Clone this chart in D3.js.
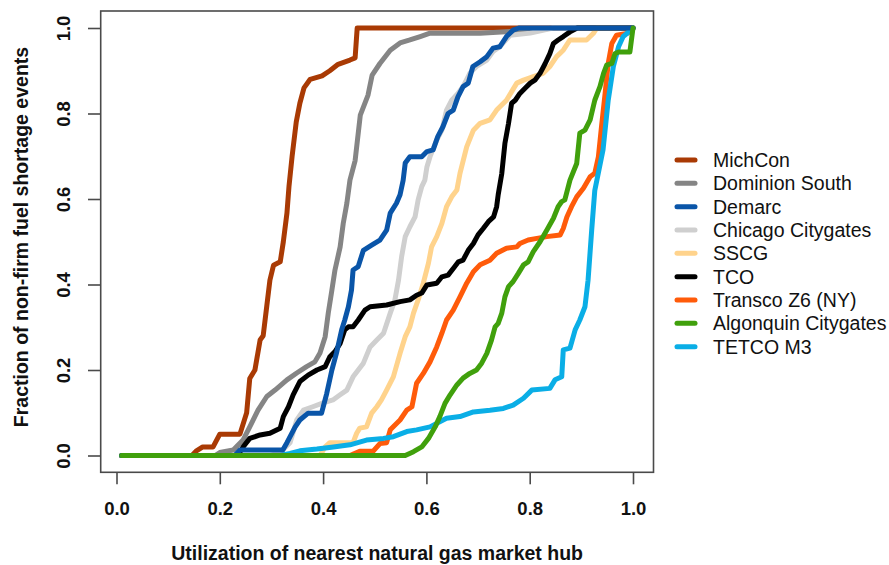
<!DOCTYPE html>
<html>
<head>
<meta charset="utf-8">
<script src="https://cdn.jsdelivr.net/npm/d3@7"></script>
<style>
  html, body { margin: 0; padding: 0; background: #fff; }
  svg { display: block; font-family: "Liberation Sans", Arial, Helvetica, sans-serif; }
</style>
</head>
<body>
<svg id="chart" width="889" height="565"></svg>
<script>
// ---------- data ----------
const seriesNames = ["MichCon", "Dominion South", "Demarc", "Chicago Citygates", "SSCG", "TCO", "Transco Z6 (NY)", "Algonquin Citygates", "TETCO M3"];
const seriesColors = ["#A93A04", "#858585", "#0A55A8", "#CFCFCF", "#FFD38C", "#000000", "#FF5B0A", "#40A00C", "#0AAEE6"];

const michconX = [0.01, 0.146, 0.154, 0.167, 0.187, 0.200, 0.239, 0.252, 0.258, 0.268, 0.278, 0.284, 0.291, 0.297, 0.304, 0.317, 0.323, 0.330, 0.334, 0.340, 0.348, 0.355, 0.363, 0.375, 0.398, 0.413, 0.429, 0.452, 0.462, 0.466, 1.0];
const michconY = [0, 0, 0.01, 0.02, 0.02, 0.05, 0.05, 0.10, 0.18, 0.20, 0.27, 0.28, 0.35, 0.41, 0.445, 0.453, 0.50, 0.567, 0.63, 0.70, 0.78, 0.824, 0.86, 0.88, 0.888, 0.90, 0.915, 0.925, 0.93, 1.0, 1.0];

const dominionX = [0.01, 0.191, 0.200, 0.226, 0.245, 0.258, 0.274, 0.291, 0.307, 0.330, 0.349, 0.368, 0.384, 0.394, 0.404, 0.410, 0.417, 0.423, 0.433, 0.439, 0.446, 0.452, 0.462, 0.472, 0.487, 0.495, 0.510, 0.530, 0.549, 0.568, 0.588, 0.607, 0.704, 0.762, 0.849, 1.0];
const dominionY = [0, 0, 0.007, 0.013, 0.036, 0.067, 0.106, 0.138, 0.153, 0.177, 0.193, 0.208, 0.219, 0.24, 0.278, 0.333, 0.387, 0.434, 0.488, 0.543, 0.59, 0.644, 0.69, 0.796, 0.843, 0.89, 0.917, 0.948, 0.965, 0.972, 0.98, 0.988, 0.988, 0.992, 1.0, 1.0];

const demarcX = [0.01, 0.229, 0.239, 0.322, 0.330, 0.346, 0.355, 0.371, 0.397, 0.407, 0.417, 0.426, 0.436, 0.442, 0.449, 0.455, 0.458, 0.468, 0.478, 0.494, 0.510, 0.523, 0.530, 0.542, 0.549, 0.555, 0.559, 0.568, 0.591, 0.601, 0.613, 0.622, 0.632, 0.642, 0.652, 0.661, 0.671, 0.681, 0.690, 0.704, 0.717, 0.729, 0.742, 0.755, 0.768, 0.779, 1.0];
const demarcY = [0, 0, 0.013, 0.013, 0.03, 0.067, 0.083, 0.099, 0.099, 0.145, 0.2, 0.24, 0.294, 0.317, 0.348, 0.387, 0.434, 0.442, 0.48, 0.492, 0.504, 0.527, 0.567, 0.59, 0.61, 0.644, 0.684, 0.699, 0.699, 0.711, 0.715, 0.746, 0.769, 0.80, 0.808, 0.839, 0.863, 0.871, 0.91, 0.921, 0.933, 0.953, 0.956, 0.98, 0.995, 1.0, 1.0];

const chicagoX = [0.01, 0.297, 0.317, 0.336, 0.349, 0.362, 0.380, 0.400, 0.419, 0.433, 0.446, 0.458, 0.478, 0.491, 0.504, 0.517, 0.530, 0.539, 0.546, 0.552, 0.559, 0.568, 0.578, 0.584, 0.591, 0.597, 0.601, 0.607, 0.620, 0.630, 0.639, 0.649, 0.661, 0.671, 0.684, 0.697, 0.717, 0.729, 0.742, 0.762, 0.801, 0.845, 1.0];
const chicagoY = [0, 0, 0.008, 0.03, 0.083, 0.106, 0.114, 0.123, 0.13, 0.142, 0.153, 0.184, 0.216, 0.254, 0.27, 0.286, 0.333, 0.364, 0.41, 0.465, 0.512, 0.535, 0.558, 0.598, 0.629, 0.644, 0.675, 0.699, 0.738, 0.761, 0.808, 0.831, 0.847, 0.863, 0.894, 0.91, 0.925, 0.945, 0.956, 0.983, 0.988, 1.0, 1.0];

const sscgX = [0.01, 0.394, 0.404, 0.413, 0.458, 0.465, 0.471, 0.484, 0.494, 0.504, 0.513, 0.523, 0.536, 0.549, 0.559, 0.568, 0.575, 0.584, 0.594, 0.604, 0.610, 0.620, 0.630, 0.639, 0.649, 0.659, 0.665, 0.678, 0.691, 0.704, 0.723, 0.736, 0.755, 0.775, 0.788, 0.807, 0.826, 0.839, 0.852, 0.865, 0.878, 0.910, 0.923, 0.930, 1.0];
const sscgY = [0, 0, 0.02, 0.03, 0.03, 0.052, 0.064, 0.067, 0.099, 0.114, 0.13, 0.153, 0.184, 0.239, 0.278, 0.301, 0.333, 0.364, 0.403, 0.45, 0.488, 0.512, 0.543, 0.582, 0.605, 0.621, 0.66, 0.722, 0.761, 0.777, 0.785, 0.808, 0.831, 0.871, 0.878, 0.886, 0.894, 0.91, 0.933, 0.948, 0.972, 0.972, 0.987, 1.0, 1.0];

const tcoX = [0.01, 0.235, 0.245, 0.258, 0.278, 0.297, 0.317, 0.323, 0.333, 0.342, 0.355, 0.371, 0.388, 0.404, 0.413, 0.423, 0.433, 0.442, 0.449, 0.458, 0.468, 0.481, 0.491, 0.523, 0.549, 0.568, 0.581, 0.591, 0.601, 0.620, 0.630, 0.642, 0.655, 0.662, 0.671, 0.681, 0.691, 0.700, 0.710, 0.720, 0.730, 0.736, 0.739, 0.746, 0.752, 0.759, 0.765, 0.772, 0.781, 0.791, 0.801, 0.810, 0.820, 0.830, 0.839, 0.846, 0.855, 0.865, 0.878, 0.892, 1.0];
const tcoY = [0, 0, 0.02, 0.04, 0.048, 0.052, 0.064, 0.091, 0.114, 0.142, 0.173, 0.188, 0.2, 0.208, 0.231, 0.243, 0.262, 0.294, 0.301, 0.301, 0.317, 0.34, 0.348, 0.352, 0.36, 0.364, 0.375, 0.38, 0.399, 0.403, 0.418, 0.422, 0.442, 0.453, 0.457, 0.48, 0.496, 0.516, 0.531, 0.547, 0.558, 0.582, 0.61, 0.66, 0.73, 0.777, 0.824, 0.831, 0.847, 0.859, 0.871, 0.878, 0.894, 0.917, 0.94, 0.964, 0.972, 0.98, 0.991, 1.0, 1.0];

const transcoX = [0.01, 0.452, 0.471, 0.497, 0.510, 0.523, 0.530, 0.549, 0.562, 0.572, 0.581, 0.594, 0.607, 0.620, 0.630, 0.639, 0.652, 0.665, 0.678, 0.691, 0.704, 0.723, 0.736, 0.755, 0.775, 0.781, 0.797, 0.814, 0.833, 0.859, 0.865, 0.872, 0.881, 0.891, 0.904, 0.917, 0.926, 0.933, 0.939, 0.946, 0.952, 0.959, 0.968, 0.988, 1.0];
const transcoY = [0, 0, 0.01, 0.01, 0.028, 0.03, 0.06, 0.083, 0.106, 0.114, 0.169, 0.192, 0.219, 0.254, 0.286, 0.317, 0.34, 0.371, 0.403, 0.43, 0.446, 0.457, 0.473, 0.485, 0.488, 0.496, 0.504, 0.508, 0.512, 0.516, 0.531, 0.558, 0.582, 0.605, 0.625, 0.652, 0.66, 0.699, 0.769, 0.847, 0.917, 0.964, 0.983, 0.987, 1.0];

const algonquinX = [0.01, 0.559, 0.575, 0.591, 0.604, 0.617, 0.626, 0.636, 0.646, 0.659, 0.671, 0.684, 0.697, 0.707, 0.717, 0.726, 0.733, 0.739, 0.746, 0.752, 0.759, 0.768, 0.778, 0.788, 0.797, 0.807, 0.820, 0.833, 0.846, 0.855, 0.862, 0.868, 0.878, 0.891, 0.897, 0.907, 0.917, 0.926, 0.936, 0.943, 0.949, 0.959, 0.965, 0.972, 0.994, 1.0];
const algonquinY = [0, 0, 0.009, 0.02, 0.04, 0.067, 0.091, 0.122, 0.142, 0.165, 0.181, 0.192, 0.2, 0.216, 0.239, 0.27, 0.301, 0.309, 0.333, 0.371, 0.395, 0.407, 0.426, 0.446, 0.453, 0.477, 0.5, 0.527, 0.555, 0.582, 0.594, 0.598, 0.644, 0.683, 0.754, 0.761, 0.785, 0.831, 0.863, 0.894, 0.913, 0.917, 0.94, 0.944, 0.944, 1.0];

const tetcoX = [0.01, 0.317, 0.336, 0.355, 0.388, 0.420, 0.452, 0.484, 0.517, 0.536, 0.562, 0.581, 0.607, 0.639, 0.665, 0.691, 0.723, 0.749, 0.768, 0.788, 0.804, 0.839, 0.849, 0.862, 0.865, 0.878, 0.888, 0.897, 0.907, 0.913, 0.920, 0.926, 0.942, 0.952, 0.962, 0.972, 0.981, 0.991, 1.0];
const tetcoY = [0, 0, 0.005, 0.011, 0.015, 0.02, 0.025, 0.036, 0.04, 0.044, 0.056, 0.06, 0.067, 0.087, 0.091, 0.102, 0.106, 0.11, 0.118, 0.134, 0.153, 0.157, 0.177, 0.184, 0.247, 0.251, 0.294, 0.317, 0.348, 0.41, 0.527, 0.62, 0.715, 0.831, 0.91, 0.956, 0.98, 0.99, 1.0];

const seriesX = [michconX, dominionX, demarcX, chicagoX, sscgX, tcoX, transcoX, algonquinX, tetcoX];
const seriesY = [michconY, dominionY, demarcY, chicagoY, sscgY, tcoY, transcoY, algonquinY, tetcoY];
// order in which the lines are painted (later = on top)
const drawOrder = [0, 1, 3, 4, 5, 6, 8, 2, 7];

const xTicks = [0, 0.2, 0.4, 0.6, 0.8, 1.0];
const yTicks = [0, 0.2, 0.4, 0.6, 0.8, 1.0];
const xTitle = "Utilization of nearest natural gas market hub";
const yTitle = "Fraction of non-firm fuel shortage events";

// ---------- layout ----------
const svg = d3.select("#chart");
const box = { left: 100.7, right: 653.5, top: 11, bottom: 472.3 };
const x = d3.scaleLinear().domain([0, 1]).range([116.5, 633]);
const y = d3.scaleLinear().domain([0, 1]).range([455.5, 28]);

// lines
const line = d3.line().x(d => x(d[0])).y(d => y(d[1])).curve(d3.curveLinear);
const g = svg.append("g");
drawOrder.forEach(i => {
  const pts = seriesX[i].map((v, k) => [v, seriesY[i][k]]);
  g.append("path")
    .attr("d", line(pts))
    .attr("fill", "none")
    .attr("stroke", seriesColors[i])
    .attr("stroke-width", 5)
    .attr("stroke-linejoin", "round")
    .attr("stroke-linecap", "round");
});

// box
svg.append("rect")
  .attr("x", box.left).attr("y", box.top)
  .attr("width", box.right - box.left).attr("height", box.bottom - box.top)
  .attr("fill", "none").attr("stroke", "#4a4a4a").attr("stroke-width", 1.6);

// x axis (ticks only, R style)
const xAxis = d3.axisBottom(x).tickValues(xTicks).tickFormat(d3.format(".1f")).tickSize(12).tickPadding(19);
const gx = svg.append("g").attr("transform", `translate(0,${box.bottom})`).call(xAxis);
gx.select(".domain").remove();
gx.selectAll(".tick line").attr("stroke", "#4a4a4a").attr("stroke-width", 1.6);
gx.selectAll(".tick text").attr("font-size", 18.5).attr("font-weight", "bold").attr("fill", "#111")
  .attr("font-family", "Liberation Sans, Arial, sans-serif").attr("dy", null).attr("y", 0)
  .attr("transform", null)
  .attr("dominant-baseline", "auto")
  .attr("y", 515 - box.bottom);

// y axis
const yAxis = d3.axisLeft(y).tickValues(yTicks).tickFormat(d3.format(".1f")).tickSize(12.7);
const gy = svg.append("g").attr("transform", `translate(${box.left},0)`).call(yAxis);
gy.select(".domain").remove();
gy.selectAll(".tick line").attr("stroke", "#4a4a4a").attr("stroke-width", 1.6);
gy.selectAll(".tick text")
  .attr("font-size", 18.5).attr("font-weight", "bold").attr("fill", "#111")
  .attr("font-family", "Liberation Sans, Arial, sans-serif")
  .attr("x", null).attr("dy", null)
  .attr("text-anchor", "middle")
  .attr("transform", `translate(${70 - box.left},0) rotate(-90)`);

// axis titles
svg.append("text")
  .attr("x", (box.left + box.right) / 2).attr("y", 560)
  .attr("text-anchor", "middle").attr("font-size", 19.5).attr("font-weight", "bold").attr("fill", "#111")
  .text(xTitle);
svg.append("text")
  .attr("transform", `translate(27.5,${237}) rotate(-90)`)
  .attr("text-anchor", "middle").attr("font-size", 19.5).attr("font-weight", "bold").attr("fill", "#111")
  .text(yTitle);

// legend
const legend = svg.append("g");
seriesNames.forEach((name, i) => {
  const ly = 160 + i * 23.33;
  legend.append("line")
    .attr("x1", 677).attr("x2", 695).attr("y1", ly).attr("y2", ly)
    .attr("stroke", seriesColors[i]).attr("stroke-width", 5).attr("stroke-linecap", "round");
  legend.append("text")
    .attr("x", 713).attr("y", ly + 7)
    .attr("font-size", 19.5).attr("fill", "#111")
    .text(name);
});
</script>
</body>
</html>
